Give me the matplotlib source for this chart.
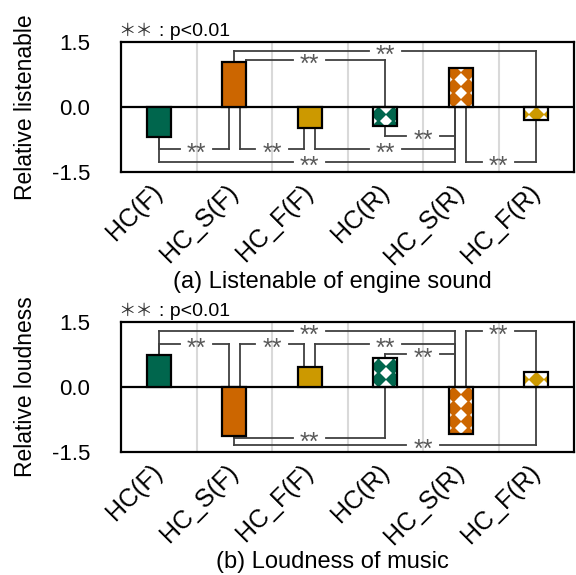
import matplotlib.pyplot as plt
import numpy as np

plt.rcParams['font.family'] = ['Liberation Sans', 'DejaVu Sans']

# categories and bar styles
labels = ['HC(F)', 'HC_S(F)', 'HC_F(F)', 'HC(R)', 'HC_S(R)', 'HC_F(R)']
colors = ['#00664d', '#cc6600', '#cc9900', '#00664d', '#cc6600', '#cc9900']
patterned = [False, False, False, True, True, True]
pattern_shift = [0, 0, 0, -0.1, -0.1, 0.0]

# relative scores
listenable = [-0.69, 1.02, -0.50, -0.45, 0.90, -0.30]
loudness = [0.73, -1.13, 0.46, 0.67, -1.08, 0.33]

# significance brackets: (left end, right end, height, label position)
brackets_a = [
    (1.0, 5.0, 1.28, 3.0),
    (1.16, 3.0, 1.08, 2.0),
    (0.0, 0.93, -0.98, 0.5),
    (1.07, 1.93, -0.98, 1.5),
    (2.07, 3.93, -0.98, 3.0),
    (3.0, 3.93, -0.68, 3.5),
    (0.0, 3.93, -1.28, 2.0),
    (4.07, 5.0, -1.28, 4.5),
]
brackets_b = [
    (0.0, 3.93, 1.28, 2.0),
    (0.0, 0.93, 0.99, 0.5),
    (1.07, 1.93, 0.99, 1.5),
    (2.07, 3.93, 0.99, 3.0),
    (3.0, 3.93, 0.75, 3.5),
    (4.07, 5.0, 1.28, 4.5),
    (1.0, 3.0, -1.19, 2.0),
    (1.0, 5.0, -1.35, 3.5),
]

line_c = '#404040'
star_c = '#595959'


def draw_bars(ax, vals):
    x = np.arange(len(vals))
    for i in x:
        v = vals[i]
        if patterned[i]:
            b = ax.bar(i, v, width=0.32, color='white', edgecolor='none', zorder=3)[0]
            rows = np.sign(v) * np.arange(0.17, abs(v) + 0.2, 0.31)
            cols = i + pattern_shift[i] + np.arange(-0.4, 0.41, 0.2)
            for yy in rows:
                m, = ax.plot(cols, np.full(len(cols), yy), 'D', ms=8.5,
                             color=colors[i], mec='none', zorder=4)
                m.set_clip_path(b)
            ax.bar(i, v, width=0.32, fill=False, edgecolor='black', lw=1.6, zorder=5)
        else:
            ax.bar(i, v, width=0.32, color=colors[i], edgecolor='black', lw=1.6, zorder=5)


def draw_brackets(ax, vals, brackets):
    gap = 0.22
    for x1, x2, y, xl in brackets:
        for xe in (x1, x2):
            i = int(round(xe))
            v = vals[i]
            start = v if (v * y > 0 and abs(xe - i) <= 0.17) else 0
            ax.plot([xe, xe], [start, y], color=line_c, lw=1.3, zorder=2)
        ax.plot([x1, xl - gap], [y, y], color=line_c, lw=1.3, zorder=2)
        ax.plot([xl + gap, x2], [y, y], color=line_c, lw=1.3, zorder=2)
        ax.annotate('**', (xl, y), xytext=(0, -8.5), textcoords='offset points',
                    ha='center', va='baseline', fontsize=18, color=star_c, zorder=6)


def style(ax, vals, brackets, ylabel, title):
    draw_bars(ax, vals)
    draw_brackets(ax, vals, brackets)
    for g in np.arange(0.5, len(labels) - 1, 1.0):
        ax.axvline(g, color='#d9d9d9', lw=1.5, zorder=0)
    ax.axhline(0, color='black', lw=1.6, zorder=4.5)
    ax.set_xlim(-0.5, len(labels) - 0.5)
    ax.set_ylim(-1.5, 1.5)
    ax.set_yticks([-1.5, 0, 1.5])
    ax.set_yticklabels(['-1.5', '0.0', '1.5'])
    ax.set_xticks(np.arange(len(labels)))
    ax.set_xticklabels(labels, rotation=45, ha='right', va='center',
                       rotation_mode='anchor')
    ax.tick_params(axis='y', length=0, pad=22, labelsize=16)
    ax.tick_params(axis='x', length=0, pad=12, labelsize=18)
    for s in ax.spines.values():
        s.set_linewidth(1.6)
    ax.set_ylabel(ylabel, fontsize=16.5)
    ax.yaxis.set_label_coords(-0.185, 0.5)
    # significance note above the frame
    ax.text(-0.006, 1 + 6 / 130, '＊＊', transform=ax.transAxes,
            va='baseline', ha='left', fontsize=12.5, color='#333333',
            family=['Noto Sans CJK JP', 'DejaVu Sans'])
    ax.text(0.083, 1 + 6 / 130, ': p<0.01', transform=ax.transAxes,
            va='baseline', ha='left', fontsize=14)
    ax.text(0.466, -0.85, title, transform=ax.transAxes, ha='center',
            va='center', fontsize=17)


fig = plt.figure(figsize=(5.76, 5.75), dpi=100)
ax1 = fig.add_axes([121 / 576, 1 - 171.7 / 575, 453 / 576, 130 / 575])
ax2 = fig.add_axes([121 / 576, 1 - 451.7 / 575, 453 / 576, 130 / 575])

style(ax1, listenable, brackets_a, 'Relative listenable', '(a) Listenable of engine sound')
style(ax2, loudness, brackets_b, 'Relative loudness', '(b) Loudness of music')

fig.savefig('out.png', dpi=100)
